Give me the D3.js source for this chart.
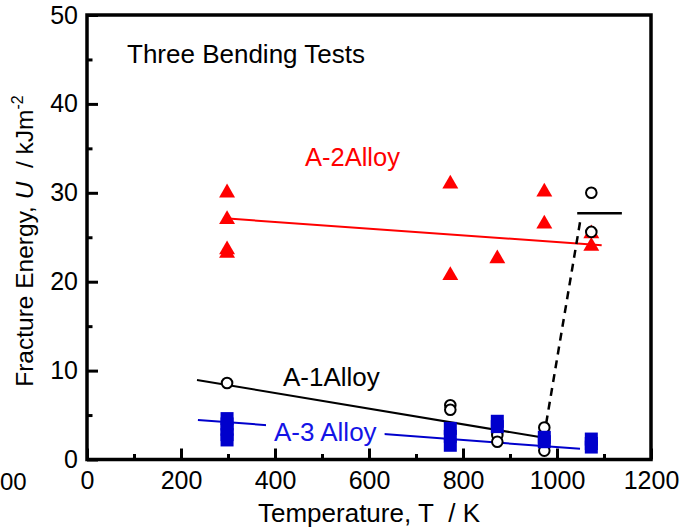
<!DOCTYPE html>
<html>
<head>
<meta charset="utf-8">
<script src="https://cdn.jsdelivr.net/npm/d3@7"></script>
<style>
  html, body { margin: 0; padding: 0; background: #fff; }
  svg { display: block; font-family: "Liberation Sans", Arial, sans-serif; }
</style>
</head>
<body>
<svg id="chart" width="691" height="529"></svg>
<script>
// Test temperatures (K) and fracture energies (kJ/m^2) from three-point bending tests
const a2Temps  = [298, 298, 298, 298, 773, 773, 873, 973, 973, 1073, 1073];
const a2Values = [30.0, 27.0, 23.6, 23.2, 31.0, 20.7, 22.6, 30.1, 26.5, 25.4, 24.0];

const a1Temps  = [298, 773, 773, 873, 873, 973, 973, 1073, 1073];
const a1Values = [8.6, 6.1, 5.6, 2.75, 2.0, 3.6, 1.0, 30.0, 25.6];

const a3Temps  = [298, 298, 298, 298, 298, 773, 773, 773, 873, 873, 973, 973, 1073, 1073, 1073];
const a3Values = [4.6, 4.0, 3.4, 2.8, 2.2, 3.5, 2.6, 1.6, 4.3, 3.7, 2.5, 2.0, 2.3, 1.8, 1.4];

// Trend lines: [temperature, energy] end points
const a2Fit = [[300, 27.1], [1095, 24.1]];
const a1Fit = [[234, 8.95], [960, 2.55]];
const a3Fit = [[236, 4.45], [1049, 1.2]];
const transition = [[972, 2.5], [1049, 26.7]];
const upperShelf = [[1043, 27.7], [1138, 27.7]];

// Axis ticks
const xMajor = [0, 200, 400, 600, 800, 1000, 1200];
const xMinor = [100, 300, 500, 700, 900, 1100];
const yMajor = [0, 10, 20, 30, 40, 50];
const yMinor = [5, 15, 25, 35, 45];

const svg = d3.select("#chart");
const x = d3.scaleLinear().domain([0, 1200]).range([87, 651]);
const y = d3.scaleLinear().domain([0, 50]).range([459.5, 15]);

const RED = "#ff0000", BLUE = "#0000cc", BLUE_TEXT = "#1414e6";

// Axes with inward ticks
function styleAxis(g) {
  g.select(".domain").remove();
  g.selectAll(".tick line").attr("stroke", "#000").attr("stroke-width", 3);
  g.selectAll(".tick text").attr("fill", "#000").style("font-size", "25px")
    .style("font-family", "'Liberation Sans', Arial, sans-serif");
}
svg.append("g").attr("transform", `translate(0,${y(0)})`)
  .call(d3.axisBottom(x).tickValues(xMajor).tickSize(-11).tickPadding(12).tickFormat(d3.format("d")))
  .call(styleAxis);
svg.append("g").attr("transform", `translate(0,${y(0)})`)
  .call(d3.axisBottom(x).tickValues(xMinor).tickSize(-5.5).tickFormat(""))
  .call(styleAxis);
svg.append("g").attr("transform", `translate(${x(0)},0)`)
  .call(d3.axisLeft(y).tickValues(yMajor).tickSize(-11).tickPadding(9).tickFormat(d3.format("d")))
  .call(styleAxis);
svg.append("g").attr("transform", `translate(${x(0)},0)`)
  .call(d3.axisLeft(y).tickValues(yMinor).tickSize(-5.5).tickFormat(""))
  .call(styleAxis);

// Plot frame
svg.append("rect")
  .attr("x", x(0)).attr("y", y(50))
  .attr("width", x(1200) - x(0)).attr("height", y(0) - y(50))
  .attr("fill", "none").attr("stroke", "#000").attr("stroke-width", 3.5);

// Leftover tick label fragment at the left edge
svg.append("text").attr("x", 0).attr("y", y(0) + 12 + 18)
  .style("font-size", "24px").text("00");

const line = d3.line().x(d => x(d[0])).y(d => y(d[1]));

// Trend lines
svg.append("path").datum(a2Fit).attr("d", line)
  .attr("stroke", RED).attr("stroke-width", 2).attr("fill", "none");
svg.append("path").datum(a1Fit).attr("d", line)
  .attr("stroke", "#000").attr("stroke-width", 2).attr("fill", "none");
svg.append("path").datum(a3Fit).attr("d", line)
  .attr("stroke", BLUE).attr("stroke-width", 2).attr("fill", "none");
svg.append("path").datum(transition).attr("d", line)
  .attr("stroke", "#000").attr("stroke-width", 2.5).attr("stroke-dasharray", "8,6").attr("fill", "none");
svg.append("path").datum(upperShelf).attr("d", line)
  .attr("stroke", "#000").attr("stroke-width", 2.5).attr("fill", "none");

// A-2: filled red triangles
const tri = d3.symbol().type(d3.symbolTriangle).size(110);
svg.append("g").selectAll("path").data(d3.zip(a2Temps, a2Values)).join("path")
  .attr("d", tri)
  .attr("transform", d => `translate(${x(d[0])},${y(d[1])})`)
  .attr("fill", RED);

// A-1: open black circles
svg.append("g").selectAll("circle").data(d3.zip(a1Temps, a1Values)).join("circle")
  .attr("cx", d => x(d[0])).attr("cy", d => y(d[1])).attr("r", 5.3)
  .attr("fill", "#fff").attr("stroke", "#000").attr("stroke-width", 2);

// A-3: filled blue squares
svg.append("g").selectAll("rect").data(d3.zip(a3Temps, a3Values)).join("rect")
  .attr("x", d => x(d[0]) - 6.5).attr("y", d => y(d[1]) - 6.5)
  .attr("width", 13).attr("height", 13)
  .attr("fill", BLUE);

// Annotations
svg.append("text").attr("x", 127).attr("y", 63).style("font-size", "26px")
  .attr("fill", "#000").text("Three Bending Tests");
svg.append("text").attr("x", 305).attr("y", 166).style("font-size", "25.5px")
  .attr("fill", RED).text("A-2Alloy");
svg.append("text").attr("x", 283).attr("y", 386).style("font-size", "26px")
  .attr("fill", "#000").text("A-1Alloy");
const a3Label = svg.append("g");
const a3Text = a3Label.append("text").attr("x", 274).attr("y", 441).style("font-size", "26px")
  .attr("fill", BLUE_TEXT).text("A-3 Alloy");
const bb = a3Text.node().getBBox();
a3Label.insert("rect", "text")
  .attr("x", bb.x - 8).attr("y", bb.y + 4).attr("width", bb.width + 16).attr("height", bb.height - 6)
  .attr("fill", "#fff");

// Axis titles
svg.append("text").attr("x", (x(0) + x(1200)) / 2).attr("y", 522)
  .attr("text-anchor", "middle").style("font-size", "26px")
  .text("Temperature, T\u00a0 / K");

const yt = svg.append("text")
  .attr("transform", `translate(33,241) rotate(-90)`)
  .attr("text-anchor", "middle").style("font-size", "24.5px");
yt.append("tspan").text("Fracture Energy, ");
yt.append("tspan").style("font-style", "italic").text("U");
yt.append("tspan").text("\u00a0 / kJm");
yt.append("tspan").attr("dy", -10).style("font-size", "16px").text("-2");
</script>
</body>
</html>
